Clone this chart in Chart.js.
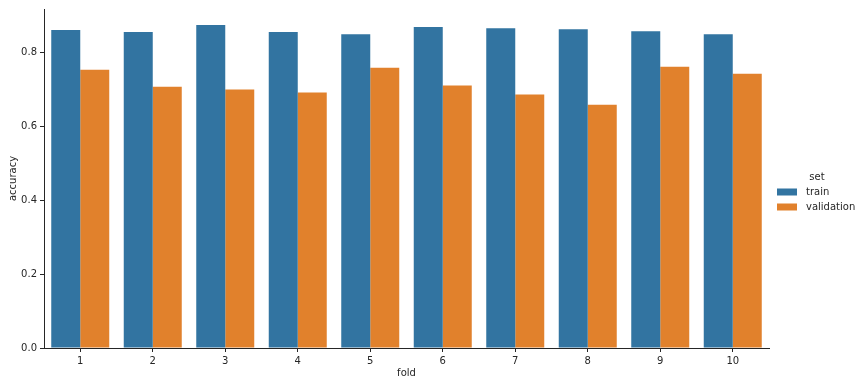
<!DOCTYPE html>
<html>
<head>
<meta charset="utf-8">
<script src="https://cdn.jsdelivr.net/npm/chart.js@4/dist/chart.umd.min.js"></script>
<style>
  html, body { margin: 0; padding: 0; background: #fff; }
  #wrap { width: 864px; height: 386px; }
</style>
</head>
<body>
<div id="wrap"><canvas id="myChart" width="864" height="386"></canvas></div>
<script>
// values
const folds = ['1', '2', '3', '4', '5', '6', '7', '8', '9', '10'];
const trainAcc = [0.860, 0.855, 0.874, 0.855, 0.849, 0.868, 0.865, 0.862, 0.857, 0.849];
const validationAcc = [0.753, 0.707, 0.699, 0.691, 0.758, 0.710, 0.686, 0.658, 0.761, 0.742];
const seriesNames = ['train', 'validation'];
const legendTitle = 'set';

const textColor = '#262626';
const font = { family: 'DejaVu Sans', size: 10 };

// draws the seaborn style legend outside the axes, on the right
const sideLegend = {
    id: 'sideLegend',
    afterDraw(chart) {
        const ctx = chart.ctx;
        ctx.save();
        ctx.font = '10px "DejaVu Sans"';
        ctx.fillStyle = textColor;
        ctx.textBaseline = 'middle';
        ctx.textAlign = 'center';
        ctx.fillText(legendTitle, 817, 177);
        ctx.textAlign = 'left';
        chart.data.datasets.forEach((ds, i) => {
            const y = 192 + i * 15;
            ctx.fillStyle = ds.backgroundColor;
            ctx.fillRect(777, y - 3.5, 20, 7);
            ctx.fillStyle = textColor;
            ctx.fillText(ds.label, 806, y);
        });
        ctx.restore();
    }
};

const ctx = document.getElementById('myChart').getContext('2d');
const myChart = new Chart(ctx, {
    type: 'bar',
    data: {
        labels: folds,
        datasets: [
            { label: seriesNames[0], data: trainAcc, backgroundColor: '#3274a1' },
            { label: seriesNames[1], data: validationAcc, backgroundColor: '#e1812c' }
        ]
    },
    options: {
        responsive: false,
        animation: false,
        layout: { padding: { top: 7, right: 95, left: 0, bottom: 0 } },
        datasets: { bar: { categoryPercentage: 0.8, barPercentage: 1.0 } },
        plugins: {
            legend: { display: false },
            tooltip: { enabled: false }
        },
        scales: {
            x: {
                offset: true,
                grid: { display: true, drawOnChartArea: false, tickLength: 4, color: textColor, offset: false },
                border: { color: textColor, width: 1 },
                ticks: { color: textColor, font: font, padding: 3, maxRotation: 0 },
                title: { display: true, text: 'fold', color: textColor, font: font, padding: { top: 0, bottom: 7 } },
                afterFit(scale) { scale.height = 38; }
            },
            y: {
                min: 0,
                max: 0.917,
                grid: { display: true, drawOnChartArea: false, tickLength: 4, color: textColor },
                border: { color: textColor, width: 1 },
                ticks: {
                    stepSize: 0.2,
                    includeBounds: false,
                    color: textColor,
                    font: font,
                    padding: 3,
                    callback: v => v.toFixed(1)
                },
                title: { display: true, text: 'accuracy', color: textColor, font: font, padding: { top: 7, bottom: 0 } },
                afterFit(scale) { scale.width = 44; }
            }
        }
    },
    plugins: [sideLegend]
});
</script>
</body>
</html>
